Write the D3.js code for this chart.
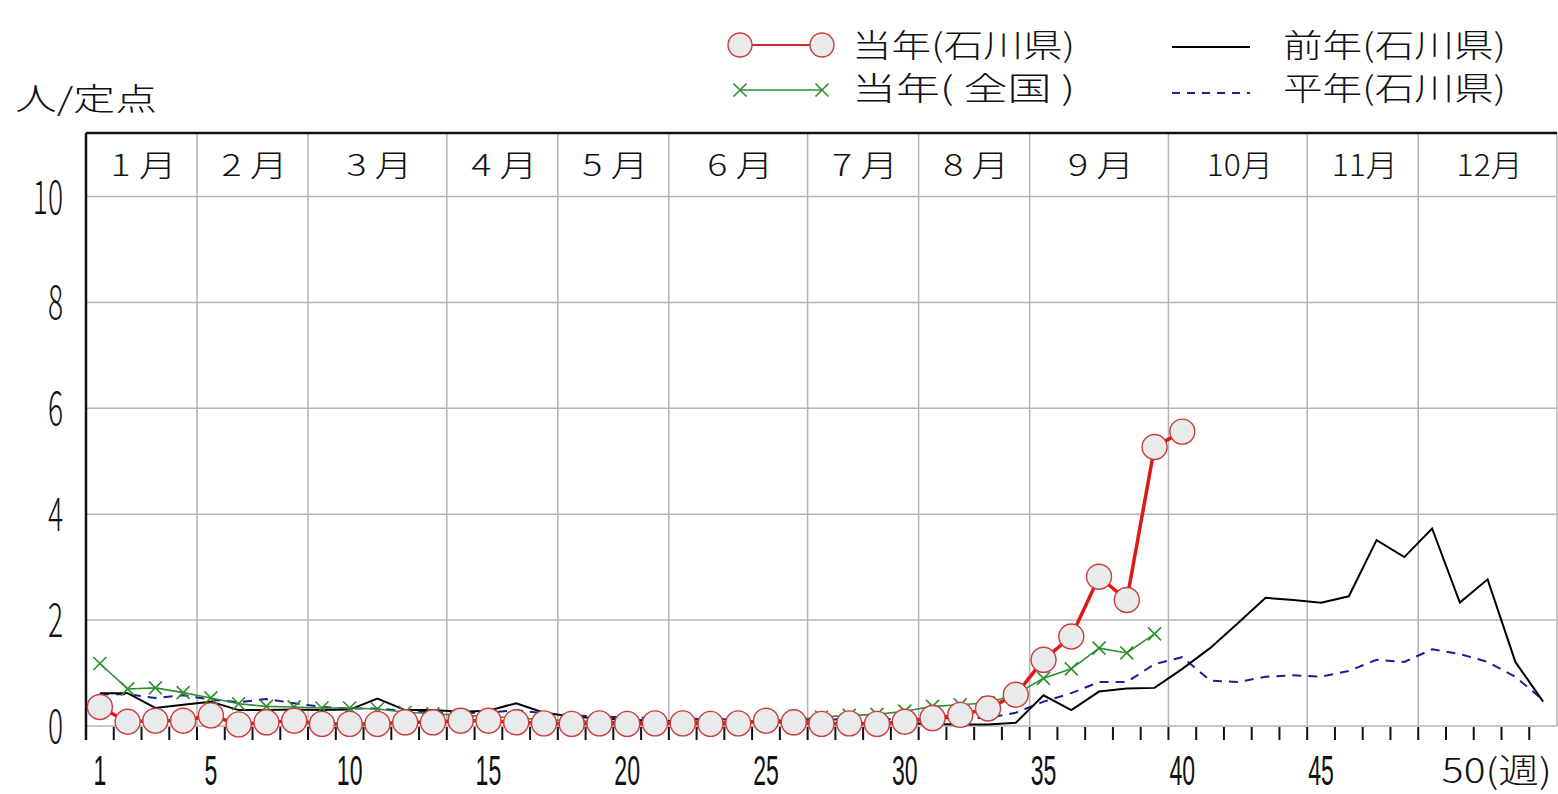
<!DOCTYPE html>
<html><head><meta charset="utf-8">
<script src="https://cdn.jsdelivr.net/npm/d3@7"></script>
<style>body{margin:0;background:#fff}svg{display:block}</style>
</head><body>
<svg id="c" width="1558" height="794"></svg>
<script>
// ---- data ----
const weeksAll = d3.range(1, 54);           // 1..53
const redIshikawa = [0.36,0.08,0.10,0.10,0.20,0.03,0.07,0.10,0.04,0.04,
  0.04,0.07,0.07,0.10,0.10,0.07,0.05,0.04,0.05,0.04,
  0.05,0.05,0.04,0.05,0.10,0.07,0.04,0.05,0.04,0.08,
  0.15,0.21,0.33,0.59,1.25,1.69,2.82,2.38,5.27,5.56];
const greenNational = [1.18,0.70,0.72,0.63,0.53,0.42,0.37,0.36,0.34,0.34,
  0.32,0.26,0.23,0.20,0.18,0.15,0.12,0.10,0.09,0.08,
  0.08,0.08,0.08,0.09,0.10,0.12,0.17,0.20,0.22,0.28,
  0.37,0.40,0.44,0.60,0.90,1.08,1.47,1.38,1.74];
const blackPrevYear = [0.62,0.62,0.34,0.40,0.46,0.30,0.30,0.31,0.30,0.31,
  0.52,0.30,0.30,0.27,0.29,0.43,0.25,0.18,0.14,0.12,
  0.10,0.09,0.08,0.07,0.07,0.06,0.06,0.05,0.05,0.05,
  0.04,0.03,0.03,0.06,0.58,0.30,0.65,0.71,0.72,1.08,
  1.47,1.94,2.42,2.38,2.33,2.45,3.51,3.19,3.73,2.33,
  2.77,1.21,0.46];
const blueNormal = [0.60,0.60,0.53,0.58,0.50,0.45,0.51,0.43,0.36,0.33,
  0.33,0.28,0.26,0.25,0.25,0.30,0.24,0.20,0.18,0.16,
  0.15,0.14,0.13,0.12,0.12,0.12,0.12,0.13,0.13,0.13,
  0.14,0.15,0.15,0.25,0.46,0.62,0.83,0.83,1.17,1.30,
  0.86,0.83,0.93,0.96,0.93,1.04,1.25,1.21,1.45,1.36,
  1.21,0.93,0.49];
const monthNames = ["1 月","2 月","3 月","4 月","5 月","6 月","7 月","8 月","9 月","10月","11月","12月"];
const monthStartWeek = [1,5,9,14,18,22,27,31,35,40,45,49];
const xTickLabels = [1,5,10,15,20,25,30,35,40,45,50];
const yTicks = [0,2,4,6,8,10];
const legendLabels = ["当年(石川県)","当年( 全国 )","前年(石川県)","平年(石川県)"];
const yTitle = "人/定点";
const weekUnit = "(週)";

// ---- drawing ----
const svg = d3.select("#c");
const x = d3.scaleLinear().domain([0.5, 53.5]).range([86, 1557]);
const y = d3.scaleLinear().domain([0, 11.2]).range([726, 133]);
const FONT = "'Noto Sans CJK JP','Noto Sans',sans-serif";
const DIGIT_FONT = "'Liberation Sans','DejaVu Sans',sans-serif";

// horizontal grid
svg.append("g").selectAll("line").data(yTicks).join("line")
  .attr("x1", x(0.5)).attr("x2", x(53.5))
  .attr("y1", d => y(d)).attr("y2", d => y(d))
  .attr("stroke", "#b4b4b4").attr("stroke-width", 1.5);
// month separators
const bounds = monthStartWeek.slice(1).map(w => w - 0.5);
svg.append("g").selectAll("line").data(bounds).join("line")
  .attr("x1", d => x(d)).attr("x2", d => x(d))
  .attr("y1", y(11.2)).attr("y2", y(0))
  .attr("stroke", "#b4b4b4").attr("stroke-width", 1.5);
// right border
svg.append("line").attr("x1", x(53.5)).attr("x2", x(53.5)).attr("y1", y(11.2)).attr("y2", y(0))
  .attr("stroke", "#b4b4b4").attr("stroke-width", 1.5);
// top + left axis
svg.append("line").attr("x1", x(0.5)).attr("x2", x(53.5)).attr("y1", y(11.2)).attr("y2", y(11.2))
  .attr("stroke", "#111").attr("stroke-width", 2.5);
svg.append("line").attr("x1", x(0.5)).attr("x2", x(0.5)).attr("y1", y(11.2)).attr("y2", 740)
  .attr("stroke", "#111").attr("stroke-width", 2.5);
// x ticks at week boundaries
svg.append("g").selectAll("line").data(d3.range(1.5, 53, 1)).join("line")
  .attr("x1", d => x(d)).attr("x2", d => x(d)).attr("y1", 727).attr("y2", 740)
  .attr("stroke", "#111").attr("stroke-width", 2);

// month labels
const monthEnd = monthStartWeek.map((w, i) => i < 11 ? monthStartWeek[i + 1] - 0.5 : 53.5);
svg.append("g").selectAll("text").data(monthNames).join("text")
  .attr("x", (d, i) => (x(monthStartWeek[i] - 0.5) + x(monthEnd[i])) / 2 - 31)
  .attr("y", 176)
  .attr("textLength", 66).attr("lengthAdjust", "spacingAndGlyphs")
  .attr("font-family", FONT).attr("font-size", 30).attr("font-weight", 300)
  .attr("fill", "#111").text(d => d);

// y labels
svg.append("g").selectAll("text").data(yTicks).join("text")
  .attr("transform", d => `translate(63,${y(d) + 17}) scale(0.6,1)`)
  .attr("text-anchor", "end")
  .attr("font-family", FONT).attr("font-size", 47).attr("font-weight", 300)
  .attr("fill", "#111").text(d => d);

// x labels
svg.append("g").selectAll("text").data(xTickLabels.slice(0, -1)).join("text")
  .attr("transform", d => `translate(${x(d)},${785}) scale(0.55,1)`)
  .attr("text-anchor", "middle")
  .attr("font-family", DIGIT_FONT).attr("font-size", 42)
  .attr("fill", "#111").text(d => d);
svg.append("text")
  .attr("x", x(50) - 18).attr("y", 783)
  .attr("textLength", 110).attr("lengthAdjust", "spacingAndGlyphs")
  .attr("font-family", FONT).attr("font-size", 34).attr("font-weight", 300)
  .attr("fill", "#111").text(xTickLabels[xTickLabels.length - 1] + weekUnit);

// y title
svg.append("text").attr("x", 15).attr("y", 110)
  .attr("textLength", 142).attr("lengthAdjust", "spacingAndGlyphs")
  .attr("font-family", FONT).attr("font-size", 31).attr("font-weight", 300)
  .attr("fill", "#111").text(yTitle);

// ---- series ----
const line = d3.line().x(d => x(d[0])).y(d => y(d[1]));
const pts = arr => arr.map((v, i) => [weeksAll[i], v]);

svg.append("path").attr("d", line(pts(blueNormal))).attr("fill", "none")
  .attr("stroke", "#1c1c9c").attr("stroke-width", 2).attr("stroke-dasharray", "9,7");
svg.append("path").attr("d", line(pts(blackPrevYear))).attr("fill", "none")
  .attr("stroke", "#000").attr("stroke-width", 2);

const gPts = pts(greenNational);
svg.append("path").attr("d", line(gPts)).attr("fill", "none")
  .attr("stroke", "#2f8f2f").attr("stroke-width", 1.6);
const xMark = (g, cx, cy, s) => g.append("path")
  .attr("d", `M${cx - s},${cy - s}L${cx + s},${cy + s}M${cx - s},${cy + s}L${cx + s},${cy - s}`)
  .attr("stroke", "#2f8f2f").attr("stroke-width", 1.6).attr("fill", "none");
const gm = svg.append("g");
gPts.forEach(p => xMark(gm, x(p[0]), y(p[1]), 6.5));

const rPts = pts(redIshikawa);
svg.append("path").attr("d", line(rPts)).attr("fill", "none")
  .attr("stroke", "#e01818").attr("stroke-width", 3.5);
svg.append("g").selectAll("circle").data(rPts).join("circle")
  .attr("cx", d => x(d[0])).attr("cy", d => y(d[1])).attr("r", 12.5)
  .attr("fill", "#e9eaec").attr("stroke", "#cc3c3c").attr("stroke-width", 1.4);

// ---- legend ----
const lg = svg.append("g");
lg.append("line").attr("x1", 740).attr("x2", 822).attr("y1", 45).attr("y2", 45)
  .attr("stroke", "#cc2a2a").attr("stroke-width", 1.8);
[740, 822].forEach(cx => lg.append("circle").attr("cx", cx).attr("cy", 45).attr("r", 12)
  .attr("fill", "#e9eaec").attr("stroke", "#cc3c3c").attr("stroke-width", 1.4));
lg.append("line").attr("x1", 740).attr("x2", 822).attr("y1", 90).attr("y2", 90)
  .attr("stroke", "#2f8f2f").attr("stroke-width", 1.6);
[740, 822].forEach(cx => xMark(lg, cx, 90, 6.5));
lg.append("line").attr("x1", 1172).attr("x2", 1250).attr("y1", 47).attr("y2", 47)
  .attr("stroke", "#000").attr("stroke-width", 2);
lg.append("line").attr("x1", 1172).attr("x2", 1250).attr("y1", 93).attr("y2", 93)
  .attr("stroke", "#1c1c9c").attr("stroke-width", 2).attr("stroke-dasharray", "8,7");
const legPos = [[852, 57], [852, 100], [1283, 57], [1283, 100]];
lg.selectAll("text").data(legendLabels).join("text")
  .attr("x", (d, i) => legPos[i][0]).attr("y", (d, i) => legPos[i][1])
  .attr("textLength", 223).attr("lengthAdjust", "spacingAndGlyphs")
  .attr("font-family", FONT).attr("font-size", 32).attr("font-weight", 300)
  .attr("fill", "#111").text(d => d);
</script>
</body></html>
